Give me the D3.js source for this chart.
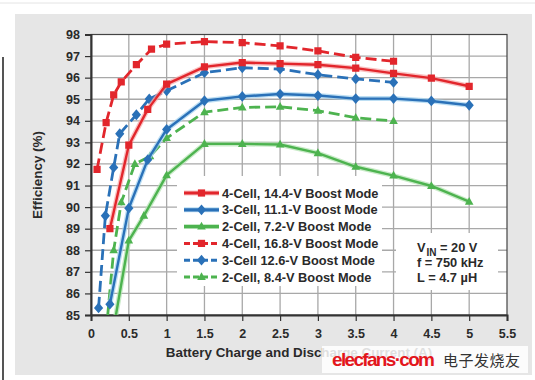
<!DOCTYPE html>
<html><head><meta charset="utf-8">
<script src="https://cdn.jsdelivr.net/npm/d3@7"></script>
<style>body{margin:0;background:#fff}svg{display:block}</style>
</head><body>
<script>
const xTicks = [0,0.5,1,1.5,2,2.5,3,3.5,4,4.5,5,5.5];
const yTicks = [85,86,87,88,89,90,91,92,93,94,95,96,97,98];
const seriesNames = ["4-Cell, 14.4-V Boost Mode","3-Cell, 11.1-V Boost Mode","2-Cell, 7.2-V Boost Mode","4-Cell, 16.8-V Boost Mode","3-Cell 12.6-V Boost Mode","2-Cell, 8.4-V Boost Mode"];
const x4s = [0.25,0.5,0.75,1,1.5,2,2.5,3,3.5,4,4.5,5];
const y4s = [89.0,92.87,94.53,95.7,96.5,96.7,96.65,96.6,96.44,96.2,95.98,95.6];
const x3s = [0.25,0.5,0.75,1,1.5,2,2.5,3,3.5,4,4.5,5];
const y3s = [85.5,89.95,92.2,93.6,94.93,95.13,95.24,95.17,95.03,95.03,94.92,94.72];
const x2s = [0.3,0.5,0.7,1,1.5,2,2.5,3,3.5,4,4.5,5];
const y2s = [84.4,88.45,89.6,91.48,92.93,92.93,92.9,92.5,91.87,91.46,90.98,90.25];
const x4d = [0.08,0.2,0.3,0.4,0.6,0.8,1,1.5,2,2.5,3,3.5,4];
const y4d = [91.75,93.92,95.2,95.8,96.6,97.32,97.55,97.67,97.62,97.47,97.24,96.94,96.76];
const x3d = [0.1,0.19,0.3,0.38,0.6,0.77,1,1.5,2,2.5,3,3.5,4];
const y3d = [85.33,89.6,91.84,93.4,94.28,95.01,95.39,96.23,96.46,96.4,96.14,95.94,95.78];
const x2d = [0.2,0.3,0.4,0.58,0.78,1,1.5,2,2.5,3,3.5,4];
const y2d = [84.2,88.0,90.22,92.0,92.36,93.2,94.4,94.62,94.65,94.47,94.14,93.99];
const infoLines = ["f = 750 kHz","L = 4.7 µH"];

const W=535,H=380;
const svg=d3.select("body").append("svg").attr("width",W).attr("height",H);
const F="'Liberation Sans', Arial, sans-serif";
// page decorations
svg.append("line").attr("x1",0).attr("x2",535).attr("y1",3).attr("y2",3).attr("stroke","#e4e4e4");
svg.append("line").attr("x1",3).attr("x2",3).attr("y1",57).attr("y2",380).attr("stroke","#555").attr("stroke-width",2);
svg.append("rect").attr("x",15).attr("y",14).attr("width",517).attr("height",361).attr("fill","#e6e6e6");

const x=d3.scaleLinear().domain([0,5.5]).range([91,507]);
const y=d3.scaleLinear().domain([85,98]).range([315,34.5]);

svg.append("rect").attr("x",x(0)).attr("y",y(98)).attr("width",x(5.5)-x(0)).attr("height",y(85)-y(98)).attr("fill","#fff");
// grid
const g=svg.append("g");
g.selectAll(".vg").data(xTicks.slice(1,-1)).join("line").attr("x1",d=>x(d)).attr("x2",d=>x(d)).attr("y1",y(98)).attr("y2",y(85)).attr("stroke","#a8a8a8").attr("stroke-width",1.3);
g.selectAll(".hg").data(yTicks.slice(1,-1)).join("line").attr("x1",x(0)).attr("x2",x(5.5)).attr("y1",d=>y(d)).attr("y2",d=>y(d)).attr("stroke","#a8a8a8").attr("stroke-width",1.3);
// border
svg.append("rect").attr("x",x(0)).attr("y",y(98)).attr("width",x(5.5)-x(0)).attr("height",y(85)-y(98)).attr("fill","none").attr("stroke","#444").attr("stroke-width",1.2);

// axes
const ya=svg.append("g").attr("transform",`translate(${x(0)},0)`).call(d3.axisLeft(y).tickValues(yTicks).tickSize(6).tickPadding(5).tickFormat(d3.format("d")));
const xa=svg.append("g").attr("transform",`translate(0,${y(85)})`).call(d3.axisBottom(x).tickValues(xTicks).tickSize(6).tickPadding(8).tickFormat(d=>String(d)));
[ya,xa].forEach(a=>{a.select(".domain").attr("stroke","#333").attr("stroke-width",2);a.selectAll(".tick line").attr("stroke","#333").attr("stroke-width",1.2);a.selectAll("text").attr("font-family",F).attr("font-weight","bold").attr("font-size",12.5).attr("fill","#2a2a2a");});

svg.append("text").attr("x",299).attr("y",357).attr("text-anchor","middle").attr("font-family",F).attr("font-weight","bold").attr("font-size",13.4).attr("fill","#2a2a2a").text("Battery Charge and Discharge Current (A)");
svg.append("text").attr("transform","translate(42,175) rotate(-90)").attr("text-anchor","middle").attr("font-family",F).attr("font-weight","bold").attr("font-size",13.4).attr("fill","#2a2a2a").text("Efficiency (%)");

// boxes
svg.append("rect").attr("x",177).attr("y",176).attr("width",205).attr("height",110).attr("fill","#fff");
svg.append("rect").attr("x",396).attr("y",233).attr("width",102).attr("height",57).attr("fill","#fff");

const red="#e2262c",blue="#2a71b8",green="#4db34f";
const halo={[red]:"#f7a7a7",[blue]:"#9fd0ee",[green]:"#b2e3b0"};
const series=[
 {xs:x4s,ys:y4s,c:red,m:"sq",dash:false},
 {xs:x3s,ys:y3s,c:blue,m:"di",dash:false},
 {xs:x2s,ys:y2s,c:green,m:"tr",dash:false},
 {xs:x4d,ys:y4d,c:red,m:"sq",dash:true},
 {xs:x3d,ys:y3d,c:blue,m:"di",dash:true},
 {xs:x2d,ys:y2d,c:green,m:"tr",dash:true}
];
svg.append("clipPath").attr("id","clip").append("rect").attr("x",x(0)).attr("y",y(98)-8).attr("width",x(5.5)-x(0)+8).attr("height",y(85)-y(98)+8);
const plot=svg.append("g").attr("clip-path","url(#clip)");
const sym={sq:"M-3.6,-3.6H3.6V3.6H-3.6Z",di:"M0,-5.4L4.6,0L0,5.4L-4.6,0Z",tr:"M0,-4.8L4.3,3L-4.3,3Z"};
function marker(sel,s,px,py){
  sel.append("path").attr("d",sym[s.m]).attr("fill",s.c).attr("transform",`translate(${px},${py})`);
}
const order=[2,5,1,4,0,3];
order.forEach(i=>{
  const s=series[i];
  const pts=s.xs.map((v,k)=>[x(v),y(s.ys[k])]);
  const line=d3.line();
  if(!s.dash) plot.append("path").attr("d",line(pts)).attr("fill","none").attr("stroke",halo[s.c]).attr("stroke-width",5).attr("opacity",0.7);
  plot.append("path").attr("d",line(pts)).attr("fill","none").attr("stroke",s.c).attr("stroke-width",s.dash?2.8:2.4).attr("stroke-dasharray",s.dash?"11,5":null).attr("stroke-linejoin","round");
  pts.forEach(p=>marker(plot,s,p[0],p[1]));
});

// legend
const lg=svg.append("g");
seriesNames.forEach((n,i)=>{
  const s=series[i];const cy=193+i*16.8;
  if(!s.dash) lg.append("line").attr("x1",184).attr("x2",219).attr("y1",cy).attr("y2",cy).attr("stroke",halo[s.c]).attr("stroke-width",5).attr("opacity",0.7);
  lg.append("line").attr("x1",184).attr("x2",219).attr("y1",cy).attr("y2",cy).attr("stroke",s.c).attr("stroke-width",s.dash?3:3.2).attr("stroke-dasharray",s.dash?"6,3":null);
  marker(lg,s,201.5,cy);
  lg.append("text").attr("x",222).attr("y",cy+4.6).attr("font-family",F).attr("font-weight","bold").attr("font-size",12.8).attr("fill","#2a2a2a").text(n);
});

// info text
const tStyle=sel=>sel.attr("font-family",F).attr("font-weight","bold").attr("fill","#2a2a2a");
svg.append("text").attr("x",417).attr("y",252).attr("font-size",12.8).call(tStyle).text("V");
svg.append("text").attr("x",426.5).attr("y",256).attr("font-size",10).call(tStyle).text("IN");
svg.append("text").attr("x",440).attr("y",252).attr("font-size",12.8).call(tStyle).text("= 20 V");
infoLines.forEach((t,i)=>svg.append("text").attr("x",417).attr("y",267+i*14.5).attr("font-size",12.8).call(tStyle).text(t));

// watermark
svg.append("rect").attr("x",322).attr("y",346).attr("width",206).attr("height",27).attr("fill","#fff").attr("opacity",0.85);
svg.append("text").attr("x",332).attr("y",366).attr("font-family",F).attr("font-weight","bold").attr("font-size",19).attr("fill","#e3161c").attr("textLength",103).text("elecfans·com");
svg.append("text").attr("x",443).attr("y",366).attr("font-family","'Noto Sans CJK SC'").attr("font-size",15).attr("fill","#333").attr("textLength",77).text("电子发烧友");
</script>
</body></html>
